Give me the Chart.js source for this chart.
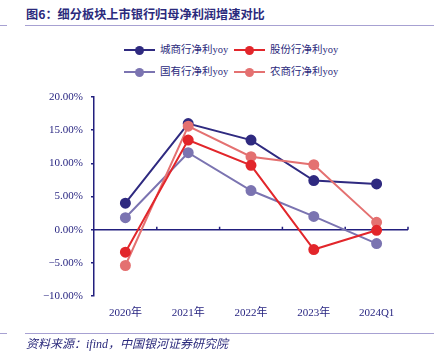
<!DOCTYPE html>
<html><head><meta charset="utf-8">
<script src="https://cdn.jsdelivr.net/npm/chart.js@4.4.1/dist/chart.umd.min.js"></script>
<style>
html,body{margin:0;padding:0;background:#fff;width:434px;height:362px;overflow:hidden;}
#wrap{position:relative;width:434px;height:362px;}
#c{position:absolute;left:0;top:0;}
.title{position:absolute;left:26px;top:5px;font-family:"Noto Sans CJK SC",sans-serif;font-weight:bold;font-size:12.2px;color:#2b2a7c;white-space:nowrap;}
.hl{position:absolute;height:1px;background:#a7a1d2;}
.src{position:absolute;left:26px;top:334px;font-family:"Liberation Serif","Noto Sans CJK SC",serif;font-style:italic;font-size:12px;color:#2b2a7c;white-space:nowrap;}
.leg{position:absolute;font-family:"Liberation Serif","Noto Sans CJK SC",serif;font-size:10.5px;color:#2b2a7c;white-space:nowrap;}
.leg .ln{position:absolute;top:7px;width:31px;height:2px;}
.leg .dt{position:absolute;top:3.5px;left:11px;width:9px;height:9px;border-radius:50%;}
.leg .tx{position:absolute;left:36px;top:0;line-height:16px;}
</style></head>
<body><div id="wrap">
<div class="title">图6：细分板块上市银行归母净利润增速对比</div>
<div class="hl" style="left:0;top:25px;width:7px"></div>
<div class="hl" style="left:25px;top:25px;width:409px"></div>
<div id="legend"></div>
<canvas id="c" width="434" height="362"></canvas>
<div class="hl" style="left:0;top:333px;width:7px"></div>
<div class="hl" style="left:25px;top:333px;width:409px"></div>
<div class="src">资料来源：ifind，中国银河证券研究院</div>
</div>
<script>
const categories = ["2020年","2021年","2022年","2023年","2024Q1"];
const seriesNames = ["城商行净利yoy","股份行净利yoy","国有行净利yoy","农商行净利yoy"];
const chengshang = [4.0, 16.0, 13.5, 7.4, 6.9];
const gufen = [-3.4, 13.5, 9.7, -3.0, -0.1];
const guoyou = [1.8, 11.6, 5.9, 2.0, -2.1];
const nongshang = [-5.4, 15.6, 11.0, 9.8, 1.1];
const yTicks = [-10, -5, 0, 5, 10, 15, 20];
const colors = ["#2f2a80", "#e2262b", "#7b74b1", "#e47171"];
const orders = [2, 0, 3, 1];
const seriesValues = [chengshang, gufen, guoyou, nongshang];

const navy = "#221f7e";

// HTML legend
const legPos = [[124,42],[234,42],[124,64],[234,64]];
const legEl = document.getElementById('legend');
seriesNames.forEach((n,i)=>{
  const d = document.createElement('div');
  d.className='leg';
  d.style.left=legPos[i][0]+'px'; d.style.top=legPos[i][1]+'px';
  d.innerHTML='<div class="ln" style="background:'+colors[i]+'"></div><div class="dt" style="background:'+colors[i]+'"></div><div class="tx">'+n+'</div>';
  legEl.appendChild(d);
});

const zeroLine = {
  id:'zeroLine',
  beforeDatasetsDraw(chart){
    const {ctx, chartArea, scales} = chart;
    const y0 = scales.y.getPixelForValue(0);
    const xs = scales.x;
    ctx.save();
    ctx.strokeStyle = navy; ctx.lineWidth = 1.5;
    ctx.beginPath();
    ctx.moveTo(chartArea.left, y0); ctx.lineTo(chartArea.right, y0);
    const n = categories.length;
    const w = (xs.right - xs.left)/n;
    for(let i=1;i<=n;i++){
      const x = xs.left + i*w;
      ctx.moveTo(x, y0); ctx.lineTo(x, y0-3);
    }
    ctx.stroke();
    ctx.restore();
  }
};

new Chart(document.getElementById('c'), {
  type:'line',
  data:{
    labels: categories,
    datasets: seriesNames.map((n,i)=>({
      label:n, data:seriesValues[i], borderColor:colors[i], backgroundColor:colors[i],
      pointBackgroundColor:colors[i], pointBorderColor:colors[i], borderWidth:2,
      pointRadius:4.5, pointHoverRadius:4.5, tension:0, order:orders[i]
    }))
  },
  options:{
    responsive:false, animation:false,
    layout:{padding:{left:0,right:26,top:97,bottom:0}},
    plugins:{legend:{display:false}, tooltip:{enabled:false}},
    scales:{
      x:{
        offset:true,
        grid:{display:false},
        border:{display:false},
        ticks:{color:navy, padding:3, maxRotation:0, font:{family:'"Liberation Serif","Noto Sans CJK SC",serif', size:11}},
        afterFit(s){ s.height = 66; }
      },
      y:{
        min:-10, max:20,
        afterBuildTicks(s){ s.ticks = yTicks.map(v=>({value:v})); },
        grid:{drawOnChartArea:false, tickLength:3, color:navy, lineWidth:1.5},
        border:{display:true, color:navy, width:1.5},
        ticks:{color:navy, padding:8, font:{family:'"Liberation Serif",serif', size:11},
          callback:(v)=> (v<0?'−':'') + Math.abs(v).toFixed(2)+'%'},
        afterFit(s){ s.width = 94; }
      }
    }
  },
  plugins:[zeroLine]
});
</script>
</body></html>
